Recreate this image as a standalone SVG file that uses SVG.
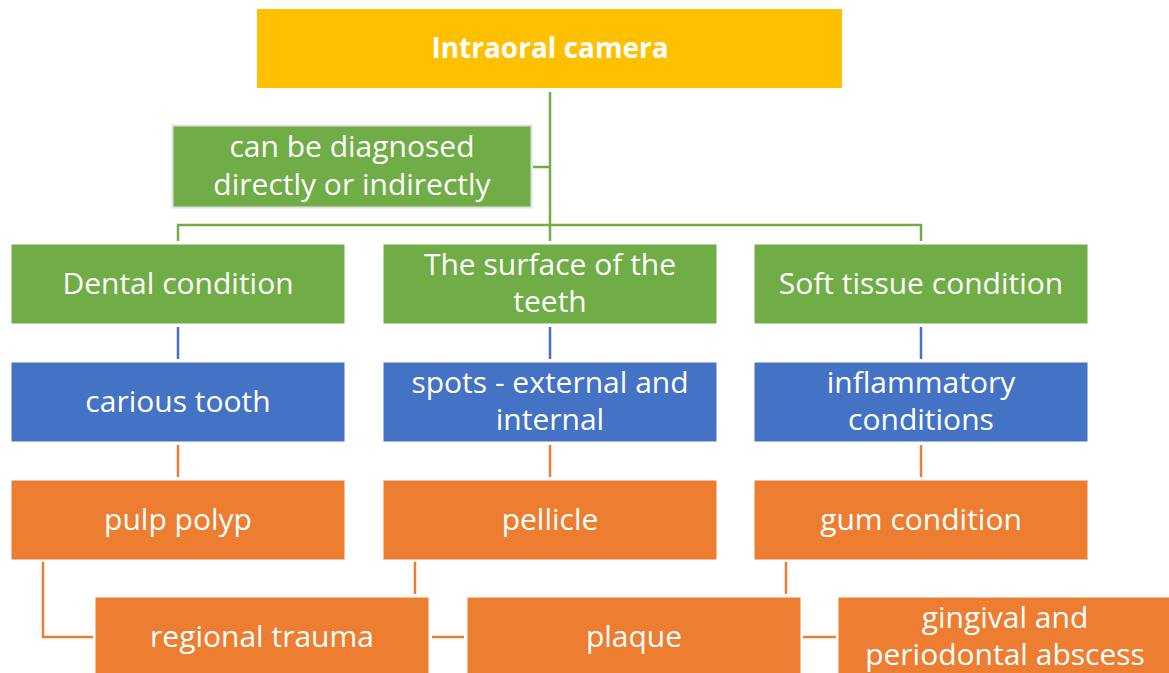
<svg xmlns="http://www.w3.org/2000/svg" width="1169" height="673" viewBox="0 0 1169 673">
<style>
.t{font-family:"Open Sans","Noto Sans",sans-serif;font-size:30px;fill:#fff;text-anchor:middle}
.b{font-weight:bold;font-size:28px}
.g{fill:#70AD47;stroke:#fff;stroke-width:1}
.bl{fill:#4472C4;stroke:#fff;stroke-width:1}
.o{fill:#ED7D31;stroke:#fff;stroke-width:1}
.cg{stroke:#70AD47;stroke-width:2.5;fill:none}
.cb{stroke:#4472C4;stroke-width:2.5;fill:none}
.co{stroke:#ED7D31;stroke-width:2.5;fill:none}
</style>
<rect width="1169" height="673" fill="#fff"/>
<g id="connectors">
<path class="cg" d="M550 92V241M533 167H550M178 241V225H921V241"/>
<path class="cb" d="M178 327V359M550 327V359M921 327V359"/>
<path class="co" d="M178 445V477M550 445V477M921 445V477"/>
<path class="co" d="M43 562V637H93M415 562V594M786 562V594M432 637H464M803 637H836"/>
</g>
<g id="n-camera"><rect x="257" y="9" width="585" height="79" fill="#FFC000"/><text class="t b" x="550" y="58">Intraoral camera</text></g>
<g id="n-label"><rect x="172.5" y="125.5" width="359" height="82" fill="#70AD47" stroke="#E2E2E2" stroke-width="2"/><text class="t" x="352" y="157">can be diagnosed</text><text class="t" x="352" y="195">directly or indirectly</text></g>
<g id="n-dental"><rect class="g" x="11" y="244" width="334" height="80"/><text class="t" x="178" y="294">Dental condition</text></g>
<g id="n-surface"><rect class="g" x="383" y="244" width="334" height="80"/><text class="t" x="550" y="275">The surface of the</text><text class="t" x="550" y="312">teeth</text></g>
<g id="n-soft"><rect class="g" x="754" y="244" width="334" height="80"/><text class="t" x="921" y="294">Soft tissue condition</text></g>
<g id="n-carious"><rect class="bl" x="11" y="362" width="334" height="80"/><text class="t" x="178" y="412">carious tooth</text></g>
<g id="n-spots"><rect class="bl" x="383" y="362" width="334" height="80"/><text class="t" x="550" y="393">spots - external and</text><text class="t" x="550" y="430">internal</text></g>
<g id="n-inflam"><rect class="bl" x="754" y="362" width="334" height="80"/><text class="t" x="921" y="393">inflammatory</text><text class="t" x="921" y="430">conditions</text></g>
<g id="n-pulp"><rect class="o" x="11" y="480" width="334" height="80"/><text class="t" x="178" y="530">pulp polyp</text></g>
<g id="n-pellicle"><rect class="o" x="383" y="480" width="334" height="80"/><text class="t" x="550" y="530">pellicle</text></g>
<g id="n-gum"><rect class="o" x="754" y="480" width="334" height="80"/><text class="t" x="921" y="530">gum condition</text></g>
<g id="n-trauma"><rect class="o" x="95" y="597" width="334" height="80"/><text class="t" x="262" y="647">regional trauma</text></g>
<g id="n-plaque"><rect class="o" x="467" y="597" width="334" height="80"/><text class="t" x="634" y="647">plaque</text></g>
<g id="n-abscess"><rect class="o" x="838" y="597" width="334" height="80"/><text class="t" x="1005" y="628">gingival and</text><text class="t" x="1005" y="665">periodontal abscess</text></g>
</svg>
